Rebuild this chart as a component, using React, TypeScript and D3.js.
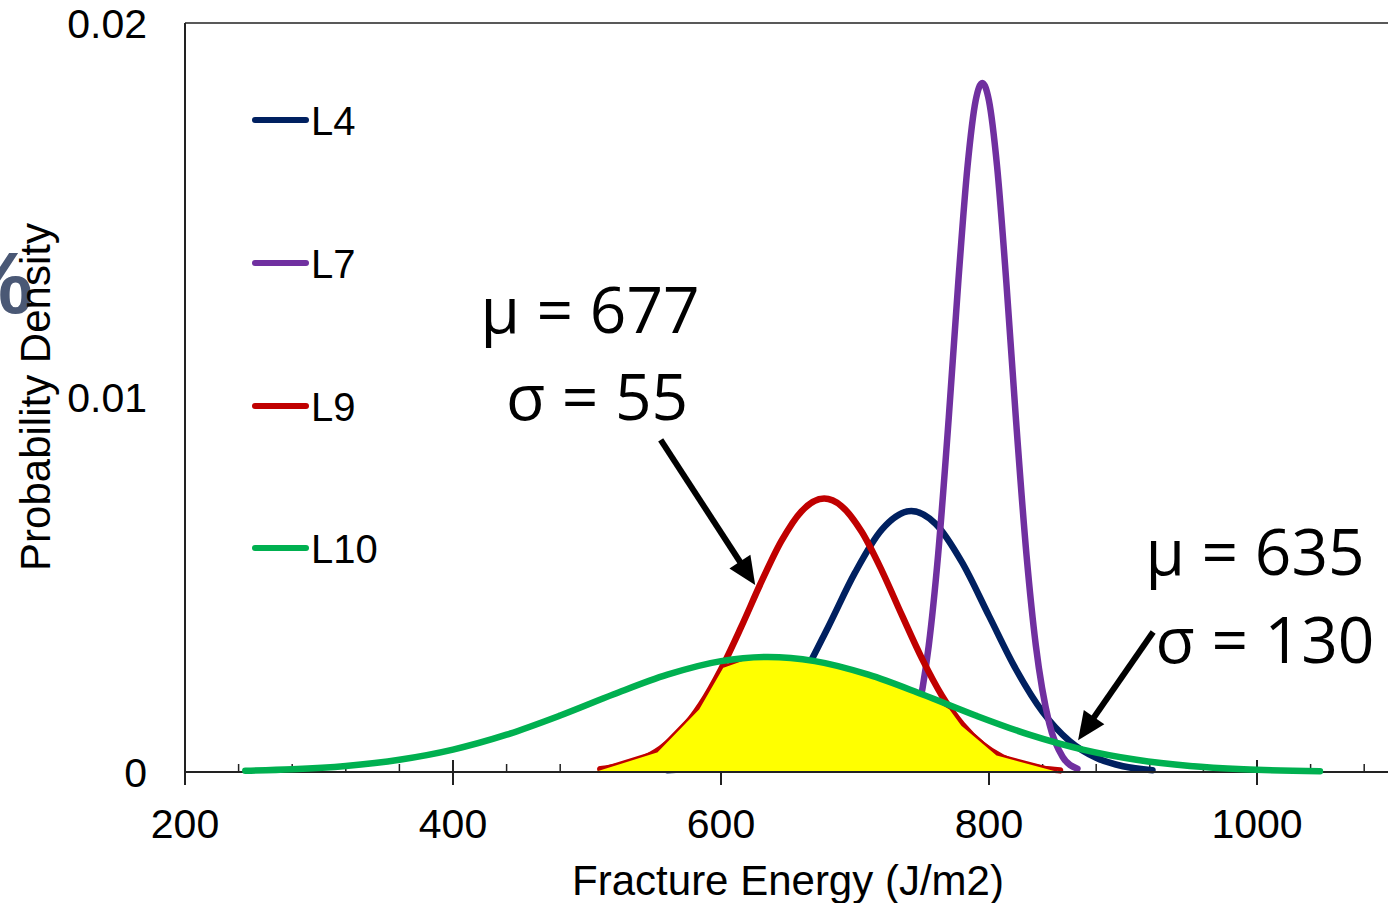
import { useMemo } from "react";
import * as d3 from "d3";

const width = 1388;
const height = 903;

// density curves (x in J/m2, y in probability density)
const L4_X = [560, 580, 600, 620, 640, 660, 680, 700, 720, 742, 760, 780, 800, 820, 840, 860, 880, 900, 922];
const L4_Y = [0.0000443, 0.000126, 0.00032, 0.000717, 0.001421, 0.002494, 0.003874, 0.005323, 0.006473, 0.00697, 0.006633, 0.00559, 0.004169, 0.00275, 0.001607, 0.00083, 0.00038, 0.000154, 0.0000494];

const L7_X = [725, 735, 745, 755, 762, 770, 777, 784, 790, 795, 800, 806, 813, 820, 828, 835, 845, 855, 866];
const L7_Y = [0.000101, 0.000403, 0.001294, 0.003365, 0.00579, 0.009476, 0.013044, 0.016181, 0.017918, 0.0184, 0.017918, 0.016181, 0.013044, 0.009476, 0.00579, 0.003365, 0.001294, 0.000403, 0.0000873];

const L9_X = [510, 525, 540, 555, 570, 585, 600, 615, 630, 645, 660, 677, 690, 705, 720, 735, 750, 765, 780, 795, 810, 825, 840, 853];
const L9_Y = [0.0000728, 0.00016, 0.000328, 0.000624, 0.001101, 0.001802, 0.00274, 0.003867, 0.005067, 0.006163, 0.006959, 0.0073, 0.007099, 0.006413, 0.005378, 0.004187, 0.003026, 0.00203, 0.001264, 0.000731, 0.000392, 0.000195, 0.0000904, 0.0000436];

const L10_X = [245, 280, 320, 360, 400, 440, 480, 520, 560, 600, 635, 670, 710, 750, 790, 830, 870, 910, 950, 990, 1047];
const L10_Y = [0.0000341, 0.0000737, 0.000163, 0.000328, 0.000599, 0.000997, 0.001509, 0.002076, 0.002599, 0.002961, 0.00307, 0.002961, 0.002599, 0.002076, 0.001509, 0.000997, 0.000599, 0.000328, 0.000163, 0.0000737, 0.0000203];

// yellow overlap area (L9 / L10)
const OVERLAP_X = [508, 552, 583, 601, 620, 640, 660, 680, 700, 720, 740, 760, 771, 780, 806, 851];
const OVERLAP_Y = [0.00006, 0.00055, 0.00169, 0.00281, 0.00305, 0.003068, 0.003014, 0.002892, 0.002709, 0.002479, 0.002216, 0.001933, 0.0017, 0.00126, 0.00047, 0.00004];

const SERIES_NAMES = ["L4", "L7", "L9", "L10"];
const SERIES_COLORS = ["#002060", "#7030A0", "#C00000", "#00B050"];

const X_MAJOR_TICKS = [200, 400, 600, 800, 1000];
const X_MINOR_TICKS = d3.range(240, 1100, 40);
const Y_TICKS = [0, 0.01, 0.02];
const Y_TICK_LABELS = ["0", "0.01", "0.02"];

const NOTE_LEFT = ["μ = 677", "σ = 55"];
const NOTE_RIGHT = ["μ = 635", "σ = 130"];
// arrows: [start, tip] in data units
const ARROWS = [
  [[555, 0.00887], [625.5, 0.00499]],
  [[922.5, 0.00374], [866.5, 0.00085]],
];

const AXIS_FONT = "'Liberation Sans', Arial, sans-serif";
const NOTE_FONT = "'Open Sans', 'Noto Sans', sans-serif";

const zip = (xs, ys) => xs.map((x, i) => [x, ys[i]]);

export default function App() {
  const x = d3.scaleLinear().domain([200, 1100]).range([185, 1391]);
  const y = d3.scaleLinear().domain([0, 0.02]).range([772, 23]);

  const line = useMemo(
    () => d3.line().x((d) => x(d[0])).y((d) => y(d[1])).curve(d3.curveMonotoneX),
    []
  );
  const polyLine = d3.line().x((d) => x(d[0])).y((d) => y(d[1]));
  const area = d3.area().x((d) => x(d[0])).y0(y(0)).y1((d) => y(d[1]));

  const curves = [zip(L4_X, L4_Y), zip(L7_X, L7_Y), zip(L9_X, L9_Y), zip(L10_X, L10_Y)];
  const overlap = zip(OVERLAP_X, OVERLAP_Y);

  const arrowParts = ARROWS.map(([s, t]) => {
    const sx = x(s[0]), sy = y(s[1]), tx = x(t[0]), ty = y(t[1]);
    const len = Math.hypot(tx - sx, ty - sy);
    const ux = (tx - sx) / len, uy = (ty - sy) / len;
    const L = 28, W = 12.5;
    const bx = tx - ux * L, by = ty - uy * L;
    const head = [
      [tx, ty],
      [bx - uy * W, by + ux * W],
      [bx + uy * W, by - ux * W],
    ];
    return { sx, sy, bx: bx + ux * 4, by: by + uy * 4, head };
  });

  const strokeW = 6.5;
  const legendY = [120, 263, 406, 548];

  return (
    <svg width={width} height={height} style={{ position: "absolute", left: 0, top: 0, background: "#fff" }}>
      {/* stray slide glyph at the far left */}
      <text x={33} y={313} textAnchor="end" fontFamily={AXIS_FONT} fontSize={88} fontWeight="bold" fill="#4A5875">%</text>

      {/* axes */}
      <line x1={x(200)} x2={width} y1={y(0.02)} y2={y(0.02)} stroke="#222" strokeWidth={1.5} />
      <line x1={x(200)} x2={x(200)} y1={y(0.02)} y2={y(0) + 13} stroke="#222" strokeWidth={2} />
      {X_MINOR_TICKS.map((t) => (
        <line key={"m" + t} x1={x(t)} x2={x(t)} y1={y(0) - 8} y2={y(0)} stroke="#222" strokeWidth={1.5} />
      ))}
      {X_MAJOR_TICKS.map((t) => (
        <line key={"M" + t} x1={x(t)} x2={x(t)} y1={y(0) - 12} y2={y(0) + 13} stroke="#222" strokeWidth={2} />
      ))}
      {X_MAJOR_TICKS.map((t) => (
        <text key={"l" + t} x={x(t)} y={y(0) + 66} textAnchor="middle" fontFamily={AXIS_FONT} fontSize={41} fill="#000">{t}</text>
      ))}
      {Y_TICKS.map((t, i) => (
        <text key={"y" + t} x={147} y={y(t) + 14.5} textAnchor="end" fontFamily={AXIS_FONT} fontSize={41} fill="#000">{Y_TICK_LABELS[i]}</text>
      ))}

      <text x={788} y={895} textAnchor="middle" fontFamily={AXIS_FONT} fontSize={42} fill="#000">Fracture Energy (J/m2)</text>
      <text transform="translate(50,397) rotate(-90)" textAnchor="middle" fontFamily={AXIS_FONT} fontSize={42} fill="#000">Probability Density</text>

      {/* L4, L7, L9 under the overlap fill */}
      {[0, 1, 2].map((i) => (
        <path key={SERIES_NAMES[i]} d={line(curves[i])} fill="none" stroke={SERIES_COLORS[i]} strokeWidth={strokeW} strokeLinecap="round" strokeLinejoin="round" />
      ))}
      <path d={area(overlap)} fill="#FFFF00" stroke="none" />
      <path d={polyLine(overlap)} fill="none" stroke="#C00000" strokeWidth={2.5} strokeLinejoin="round" />
      <line x1={x(200)} x2={width} y1={y(0)} y2={y(0)} stroke="#222" strokeWidth={2} />
      <path d={line(curves[3])} fill="none" stroke={SERIES_COLORS[3]} strokeWidth={strokeW} strokeLinecap="round" strokeLinejoin="round" />

      {/* legend */}
      {SERIES_NAMES.map((name, i) => (
        <g key={"lg" + name}>
          <line x1={255} x2={306} y1={legendY[i]} y2={legendY[i]} stroke={SERIES_COLORS[i]} strokeWidth={6} strokeLinecap="round" />
          <text x={311} y={legendY[i] + 14.5} fontFamily={AXIS_FONT} fontSize={40} fill="#000">{name}</text>
        </g>
      ))}

      {/* annotations */}
      {arrowParts.map((a, i) => (
        <g key={"ar" + i}>
          <line x1={a.sx} y1={a.sy} x2={a.bx} y2={a.by} stroke="#000" strokeWidth={6} />
          <polygon points={a.head.map((p) => p.join(",")).join(" ")} fill="#000" />
        </g>
      ))}
      <text x={590} y={333} textAnchor="middle" fontFamily={NOTE_FONT} fontSize={64} fill="#000">{NOTE_LEFT[0]}</text>
      <text x={597} y={420} textAnchor="middle" fontFamily={NOTE_FONT} fontSize={64} fill="#000">{NOTE_LEFT[1]}</text>
      <text x={1255} y={575} textAnchor="middle" fontFamily={NOTE_FONT} fontSize={64} fill="#000">{NOTE_RIGHT[0]}</text>
      <text x={1265} y={663} textAnchor="middle" fontFamily={NOTE_FONT} fontSize={64} fill="#000">{NOTE_RIGHT[1]}</text>
    </svg>
  );
}
